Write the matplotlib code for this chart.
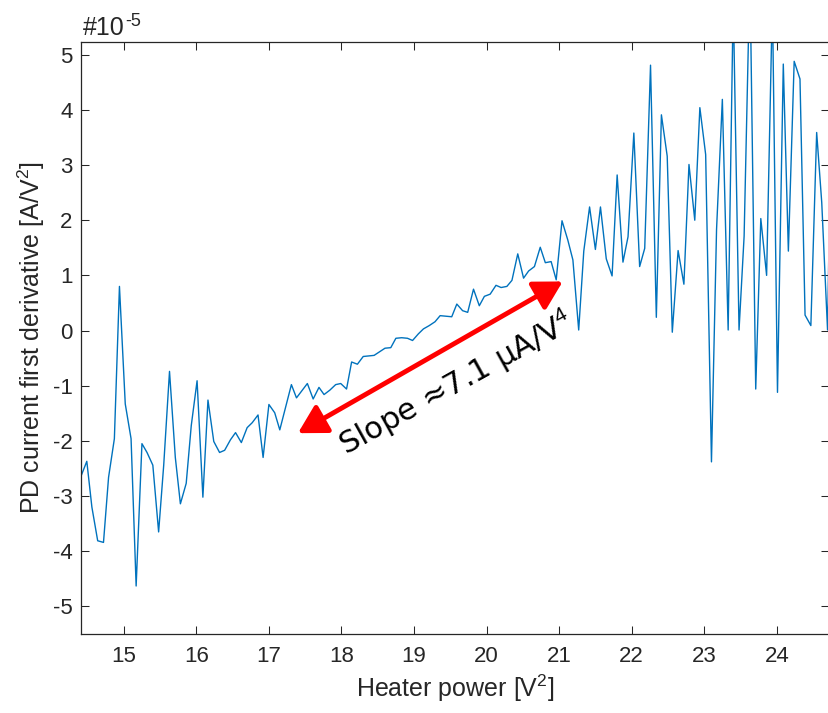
import matplotlib.pyplot as plt

plt.rcParams['font.family'] = ['Liberation Sans', 'DejaVu Sans']
plt.rcParams['mathtext.fontset'] = 'custom'
plt.rcParams['mathtext.rm'] = 'Liberation Sans'
plt.rcParams['mathtext.it'] = 'Liberation Sans'
plt.rcParams['axes.unicode_minus'] = False

# heater power samples [V^2]
heater_power = [
    14.41, 14.49, 14.56, 14.64, 14.72, 14.79, 14.87, 14.94, 15.02, 15.10,
    15.17, 15.25, 15.32, 15.40, 15.48, 15.55, 15.63, 15.71, 15.78, 15.86,
    15.93, 16.01, 16.09, 16.16, 16.24, 16.32, 16.39, 16.47, 16.54, 16.62,
    16.70, 16.77, 16.85, 16.92, 17.00, 17.08, 17.15, 17.23, 17.31, 17.38,
    17.46, 17.53, 17.61, 17.69, 17.76, 17.84, 17.92, 17.99, 18.07, 18.14,
    18.22, 18.30, 18.37, 18.45, 18.53, 18.60, 18.68, 18.75, 18.83, 18.91,
    18.98, 19.06, 19.13, 19.21, 19.29, 19.36, 19.44, 19.52, 19.59, 19.67,
    19.74, 19.82, 19.90, 19.97, 20.05, 20.13, 20.20, 20.28, 20.35, 20.43,
    20.51, 20.58, 20.66, 20.74, 20.81, 20.89, 20.96, 21.04, 21.12, 21.19,
    21.27, 21.34, 21.42, 21.50, 21.57, 21.65, 21.73, 21.80, 21.88, 21.95,
    22.03, 22.11, 22.18, 22.26, 22.34, 22.41, 22.49, 22.56, 22.64, 22.72,
    22.79, 22.87, 22.94, 23.02, 23.10, 23.17, 23.25, 23.33, 23.40, 23.48,
    23.55, 23.63, 23.71, 23.78, 23.86, 23.94, 24.01, 24.09, 24.16, 24.24,
    24.32, 24.39, 24.47, 24.55, 24.62, 24.70, 24.77,
]

# PD current first derivative, in units of 1e-5 A/V^2
pd_deriv = [
    -2.64, -2.37, -3.20, -3.81, -3.84, -2.66, -1.96, 0.80, -1.33, -1.96,
    -4.63, -2.05, -2.21, -2.44, -3.65, -2.44, -0.74, -2.30, -3.14, -2.77,
    -1.72, -0.91, -3.02, -1.26, -2.01, -2.21, -2.17, -1.98, -1.85, -2.03,
    -1.76, -1.67, -1.53, -2.30, -1.34, -1.49, -1.80, -1.39, -0.98, -1.22,
    -1.08, -0.96, -1.24, -1.03, -1.16, -1.08, -0.98, -0.96, -1.06, -0.57,
    -0.61, -0.47, -0.46, -0.45, -0.38, -0.32, -0.31, -0.14, -0.13, -0.14,
    -0.18, -0.06, 0.03, 0.09, 0.16, 0.27, 0.26, 0.25, 0.48, 0.36,
    0.33, 0.75, 0.45, 0.62, 0.66, 0.82, 0.78, 0.80, 0.91, 1.39,
    0.95, 1.08, 1.16, 1.51, 1.23, 1.25, 0.92, 1.99, 1.64, 1.28,
    0.01, 1.44, 2.24, 1.47, 2.24, 1.30, 0.99, 2.82, 1.24, 1.70,
    3.58, 1.16, 1.49, 4.81, 0.24, 3.91, 3.16, -0.03, 1.45, 0.84,
    3.01, 2.00, 4.04, 3.19, -2.38, 1.83, 4.19, 0.01, 6.00, 0.01,
    1.71, 6.50, -1.06, 2.03, 1.00, 6.00, -1.12, 4.83, 1.44, 4.88,
    4.56, 0.28, 0.09, 3.59, 2.32, 0.01, 5.60,
]

# slope arrow end points (x, y in 1e-5)
arrow_start = (17.40, -1.86)
arrow_end = (21.05, 0.89)
slope_text_pos = (19.58, -0.95)

x_ticks = [15, 16, 17, 18, 19, 20, 21, 22, 23, 24]
y_ticks = [-5, -4, -3, -2, -1, 0, 1, 2, 3, 4, 5]

dark = '#262626'

fig = plt.figure(figsize=(8.29, 7.13), dpi=100)
ax = fig.add_axes([81 / 829, 79 / 713, 748 / 829, 592 / 713])

ax.plot(heater_power, pd_deriv, color='#0072BD', lw=1.0)

ax.set_xlim(14.41, 24.72)
ax.set_ylim(-5.5, 5.23)
ax.set_xticks(x_ticks)
ax.set_yticks(y_ticks)
ax.tick_params(direction='in', top=True, right=True, length=6, width=0.75,
               colors=dark, labelsize=16)
ax.tick_params(axis='x', pad=9)
ax.tick_params(axis='y', pad=6)
for sp in ax.spines.values():
    sp.set_color(dark)
    sp.set_linewidth(0.9)

ax.set_xlabel(r'Heater power [V$^{2}$]', fontsize=18, color=dark, labelpad=4)
ax.set_ylabel(r'PD current first derivative [A/V$^{2}$]', fontsize=18,
              color=dark, labelpad=4)

# exponent label, MATLAB style
base = ax.text(0.003, 1.003, '#10', transform=ax.transAxes, fontsize=18,
               color=dark, ha='left', va='bottom')
ax.annotate('-5', xy=(1.0, 1.12), xycoords=base, fontsize=13, color=dark,
            ha='left', va='top')

ax.annotate('', xy=arrow_end, xytext=arrow_start,
            arrowprops=dict(arrowstyle='<|-|>,head_length=0.85,head_width=0.48',
                            color='red', lw=3.5, mutation_scale=20,
                            shrinkA=0, shrinkB=0))
ax.text(slope_text_pos[0], slope_text_pos[1], r'Slope ≈7.1 μA/V$^{4}$',
        family=['DejaVu Sans'], fontsize=22, color='black', rotation=29,
        rotation_mode='anchor', ha='center', va='center')

fig.savefig('out.png', dpi=100)
